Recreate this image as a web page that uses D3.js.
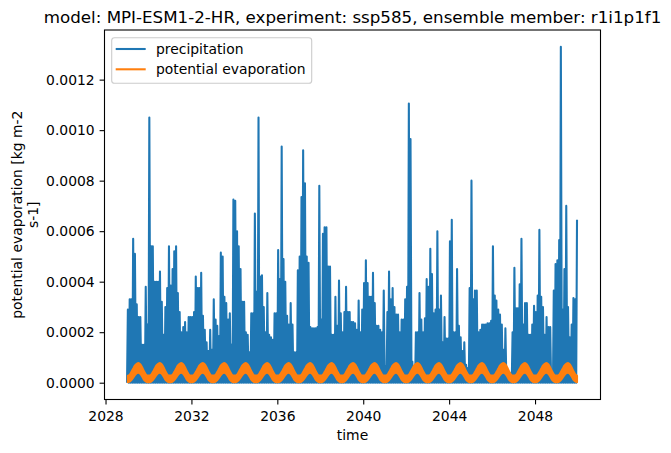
<!DOCTYPE html>
<html>
<head>
<meta charset="utf-8">
<script src="https://cdn.jsdelivr.net/npm/d3@7"></script>
<style>
  body { margin: 0; background: #fff; }
  svg text { font-family: "DejaVu Sans", sans-serif; fill: #000; }
</style>
</head>
<body>
<script>
// years shown in the run
const years = [2029, 2030, 2031, 2032, 2033, 2034, 2035, 2036, 2037, 2038, 2039,
               2040, 2041, 2042, 2043, 2044, 2045, 2046, 2047, 2048, 2049];

// monthly maximum precipitation (units 1e-4 kg m-2 s-1)
const precipMax = [
  [2.9, 3.3, 3.3, 5.7, 5.1, 3.1, 2.6, 2.6, 1.5, 1.5, 3.8, 2.3],
  [10.5, 5.4, 5.4, 4.0, 4.0, 4.0, 4.4, 3.2, 1.9, 3.0, 3.75, 5.4],
  [3.85, 4.5, 5.2, 5.4, 3.55, 2.8, 2.0, 2.2, 2.4, 2.0, 2.6, 2.6],
  [2.6, 2.8, 4.2, 3.75, 3.75, 4.35, 2.65, 2.1, 1.6, 1.25, 2.1, 1.3],
  [3.3, 2.5, 2.25, 1.85, 5.15, 5.0, 3.4, 3.15, 2.5, 2.75, 1.5, 7.25],
  [7.2, 6.0, 5.4, 4.5, 3.2, 3.2, 2.0, 1.9, 1.2, 2.75, 2.75, 6.7],
  [3.6, 10.5, 4.2, 4.25, 3.0, 2.0, 3.55, 1.9, 1.8, 1.7, 2.75, 2.75],
  [5.25, 4.1, 9.35, 4.9, 4.0, 2.65, 2.3, 3.15, 2.3, 1.2, 1.2, 4.45],
  [5.0, 7.35, 9.2, 7.9, 5.0, 4.75, 2.2, 2.15, 2.15, 2.15, 2.2, 7.8],
  [2.5, 5.9, 6.15, 6.15, 4.6, 4.6, 1.9, 1.9, 3.4, 2.25, 4.05, 2.75],
  [2.0, 2.8, 3.8, 2.8, 2.8, 2.4, 2.4, 2.35, 2.1, 3.25, 2.0, 2.9],
  [3.95, 4.85, 3.95, 3.4, 3.4, 4.35, 3.15, 2.25, 2.25, 2.1, 2.0, 3.65],
  [0.65, 2.8, 4.4, 3.3, 3.75, 3.0, 2.7, 2.7, 2.0, 2.5, 2.5, 3.3],
  [3.8, 11.05, 9.65, 0.84, 0.64, 2.0, 2.0, 3.55, 2.5, 2.0, 2.55, 4.1],
  [3.8, 5.3, 4.3, 2.75, 2.9, 6.0, 2.9, 3.45, 1.6, 2.6, 1.75, 1.75],
  [5.6, 6.45, 2.0, 2.0, 4.5, 2.25, 1.8, 1.25, 1.6, 0.71, 0.58, 3.75],
  [8.0, 3.3, 3.65, 3.65, 2.0, 2.1, 2.3, 2.3, 2.3, 2.35, 2.35, 2.45],
  [5.4, 3.45, 3.25, 2.9, 2.7, 2.3, 1.3, 2.15, 0.38, 0.38, 0.38, 2.0],
  [4.55, 2.95, 2.95, 3.9, 5.7, 2.3, 3.15, 3.15, 1.9, 1.9, 2.3, 3.05],
  [2.8, 3.45, 6.05, 3.4, 3.0, 1.9, 2.6, 2.2, 2.2, 0.4, 3.65, 4.7],
  [4.85, 5.65, 13.3, 2.9, 4.5, 7.0, 3.0, 1.8, 2.3, 3.35, 3.3, 6.45]
];
const precipDry = 0; // dry days go down to zero

// potential evaporation: daily spread per month, same every year (units 1e-4)
const petLow  = [0.02, 0.04, 0.10, 0.20, 0.30, 0.38, 0.40, 0.35, 0.25, 0.12, 0.05, 0.02];
const petHigh = [0.28, 0.32, 0.42, 0.55, 0.68, 0.75, 0.78, 0.72, 0.60, 0.45, 0.33, 0.28];

const yTicks = [0, 0.0002, 0.0004, 0.0006, 0.0008, 0.0010, 0.0012];
const seriesNames = ['precipitation', 'potential evaporation'];
const colors = ['#1f77b4', '#ff7f0e'];

const width = 671, height = 453;
const mLeft = 104.5, mRight = 600.5, mTop = 30, mBottom = 399.5; // axes box
const lw = 2.08; // 1.5pt line at 100 dpi

const svg = d3.select('body').append('svg')
    .attr('width', width)
    .attr('height', height);

// build the series
let precip = [], pet = [];
years.forEach((yr, i) => {
    precipMax[i].forEach((v, m) => {
        precip.push({t: new Date(Date.UTC(yr, m, 1)), v: precipDry});
        precip.push({t: new Date(Date.UTC(yr, m, 15)), v: v * 1e-4});
        pet.push({t: new Date(Date.UTC(yr, m, 15)), lo: petLow[m] * 1e-4, hi: petHigh[m] * 1e-4});
    });
});

// scales, 5% margins like matplotlib
const t0 = Date.UTC(years[0], 0, 1), t1 = Date.UTC(years[years.length - 1], 11, 31);
const tPad = (t1 - t0) * 0.05;
const x = d3.scaleUtc()
    .domain([new Date(t0 - tPad), new Date(t1 + tPad)])
    .range([mLeft, mRight]);

const vMax = d3.max(precip, d => d.v);
const vPad = vMax * 0.05;
const y = d3.scaleLinear()
    .domain([-vPad, vMax + vPad])
    .range([mBottom, mTop]);

// precipitation line
svg.append('path')
    .datum(precip)
    .attr('fill', 'none')
    .attr('stroke', colors[0])
    .attr('stroke-width', lw)
    .attr('stroke-linejoin', 'round')
    .attr('d', d3.line().x(d => x(d.t)).y(d => y(d.v)));

// potential evaporation band
svg.append('path')
    .datum(pet)
    .attr('fill', colors[1])
    .attr('stroke', colors[1])
    .attr('stroke-width', lw)
    .attr('stroke-linejoin', 'round')
    .attr('d', d3.area().curve(d3.curveMonotoneX)
        .x(d => x(d.t)).y0(d => y(d.lo)).y1(d => y(d.hi)));

// axes
const xAxis = svg.append('g')
    .attr('transform', `translate(0,${mBottom})`)
    .call(d3.axisBottom(x).ticks(d3.utcYear.every(4)).tickFormat(d3.utcFormat('%Y'))
        .tickSize(4.9).tickPadding(6.5));
const yAxis = svg.append('g')
    .attr('transform', `translate(${mLeft},0)`)
    .call(d3.axisLeft(y).tickValues(yTicks).tickFormat(d3.format('.4f'))
        .tickSize(4.9).tickPadding(4.9));

[xAxis, yAxis].forEach(g => {
    g.select('.domain').remove();
    g.selectAll('line').attr('stroke', '#000').attr('stroke-width', 1.1);
    g.selectAll('text').attr('font-size', 13.9).attr('font-family', 'DejaVu Sans');
});

// frame
svg.append('rect')
    .attr('x', mLeft).attr('y', mTop)
    .attr('width', mRight - mLeft).attr('height', mBottom - mTop)
    .attr('fill', 'none').attr('stroke', '#000').attr('stroke-width', 1.1);

// title and labels
svg.append('text')
    .attr('x', (mLeft + mRight) / 2).attr('y', 22.5)
    .attr('text-anchor', 'middle').attr('font-size', 16.7)
    .text('model: MPI-ESM1-2-HR, experiment: ssp585, ensemble member: r1i1p1f1');

svg.append('text')
    .attr('x', (mLeft + mRight) / 2).attr('y', 440)
    .attr('text-anchor', 'middle').attr('font-size', 13.9)
    .text('time');

const yl = svg.append('text')
    .attr('transform', `translate(21.5,${(mTop + mBottom) / 2}) rotate(-90)`)
    .attr('text-anchor', 'middle').attr('font-size', 13.9);
yl.append('tspan').attr('x', 0).attr('dy', 0).text('potential evaporation [kg m-2');
yl.append('tspan').attr('x', 0).attr('dy', 16.6).text('s-1]');

// legend
const lg = svg.append('g');
lg.append('rect')
    .attr('x', 111.7).attr('y', 37.7).attr('width', 200).attr('height', 45.6)
    .attr('rx', 2.8)
    .attr('fill', 'rgba(255,255,255,0.8)').attr('stroke', '#cccccc').attr('stroke-width', 1.1);
seriesNames.forEach((name, i) => {
    const ry = 49 + i * 20.3;
    lg.append('line')
        .attr('x1', 115.7).attr('x2', 145.7).attr('y1', ry).attr('y2', ry)
        .attr('stroke', colors[i]).attr('stroke-width', lw);
    lg.append('text')
        .attr('x', 156).attr('y', ry + 5).attr('font-size', 13.9)
        .text(name);
});
</script>
</body>
</html>
